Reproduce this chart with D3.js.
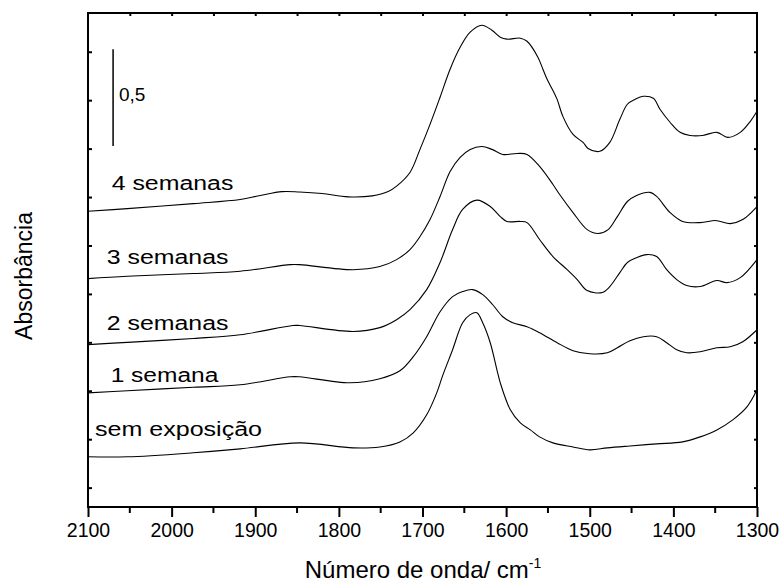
<!DOCTYPE html>
<html>
<head>
<meta charset="utf-8">
<script src="https://cdn.jsdelivr.net/npm/d3@7"></script>
<style>
  body { margin: 0; background: #fff; }
  text { font-family: Arial, "Liberation Sans", sans-serif; fill: #000; }
</style>
</head>
<body>
<svg id="chart" width="781" height="583"></svg>
<script>
// spectra, [wavenumber, absorbance]
var s4 = [[2100,1.427],[2053,1.440],[1974,1.466],[1918,1.487],[1894,1.508],[1868,1.528],[1847,1.526],[1820,1.518],
  [1789,1.501],[1760,1.506],[1741,1.528],[1731,1.556],[1715,1.627],[1703,1.746],[1691,1.875],[1679,2.015],[1667,2.160],
  [1655,2.273],[1643,2.351],[1629,2.387],[1617,2.361],[1607,2.325],[1599,2.315],[1583,2.320],[1575,2.304],
  [1562,2.222],[1556,2.160],[1551,2.108],[1544,2.050],[1539,2.004],[1532,1.915],[1520,1.823],[1508,1.782],[1502,1.751],
  [1488,1.736],[1476,1.782],[1464,1.901],[1455,1.979],[1446,2.004],[1436,2.020],[1424,2.010],[1416,1.953],[1404,1.886],
  [1392,1.834],[1380,1.818],[1365,1.818],[1348,1.834],[1335,1.808],[1320,1.834],[1308,1.891],[1300,1.943]];

var s3 = [[2100,1.079],[2053,1.091],[1974,1.105],[1918,1.117],[1858,1.151],[1847,1.151],[1783,1.125],[1751,1.141],
  [1731,1.177],[1715,1.229],[1703,1.296],[1691,1.384],[1679,1.503],[1667,1.632],[1655,1.705],[1643,1.746],[1629,1.761],
  [1617,1.746],[1604,1.720],[1587,1.725],[1575,1.720],[1560,1.658],[1544,1.565],[1536,1.513],[1520,1.420],[1503,1.332],
  [1490,1.312],[1478,1.332],[1467,1.399],[1455,1.477],[1444,1.508],[1428,1.524],[1420,1.503],[1404,1.420],[1389,1.374],
  [1368,1.368],[1350,1.379],[1344,1.374],[1332,1.363],[1317,1.384],[1300,1.451]];

var s2 = [[2100,0.738],[2053,0.750],[1974,0.770],[1918,0.789],[1855,0.837],[1847,0.837],[1783,0.806],[1751,0.826],
  [1731,0.867],[1715,0.919],[1695,1.022],[1679,1.162],[1664,1.332],[1652,1.436],[1635,1.484],[1619,1.451],[1607,1.399],
  [1599,1.374],[1583,1.374],[1575,1.368],[1560,1.281],[1544,1.193],[1527,1.125],[1515,1.074],[1503,1.017],[1485,1.007],
  [1476,1.038],[1464,1.110],[1455,1.162],[1444,1.187],[1432,1.203],[1420,1.193],[1408,1.125],[1396,1.074],[1384,1.043],
  [1368,1.038],[1348,1.069],[1336,1.058],[1320,1.084],[1300,1.177]];

var s1 = [[2100,0.489],[2053,0.500],[1974,0.518],[1918,0.531],[1858,0.572],[1847,0.572],[1787,0.541],[1751,0.562],
  [1727,0.603],[1711,0.676],[1695,0.779],[1679,0.908],[1664,0.986],[1652,1.012],[1640,1.022],[1628,0.996],[1616,0.944],
  [1604,0.882],[1592,0.851],[1575,0.831],[1560,0.800],[1539,0.748],[1520,0.707],[1500,0.691],[1479,0.696],[1467,0.722],
  [1452,0.758],[1436,0.779],[1420,0.779],[1408,0.748],[1396,0.712],[1384,0.696],[1368,0.701],[1348,0.722],[1332,0.727],
  [1317,0.753],[1300,0.815]];

var s0 = [[2100,0.159],[2053,0.159],[1974,0.180],[1918,0.200],[1847,0.231],[1783,0.205],[1751,0.210],[1727,0.236],
  [1711,0.283],[1695,0.376],[1683,0.489],[1676,0.577],[1664,0.712],[1652,0.851],[1643,0.893],[1635,0.903],[1628,0.851],
  [1619,0.748],[1611,0.608],[1607,0.541],[1595,0.402],[1583,0.334],[1571,0.298],[1560,0.262],[1544,0.231],[1520,0.210],
  [1500,0.195],[1479,0.205],[1452,0.215],[1420,0.226],[1389,0.236],[1368,0.262],[1348,0.298],[1329,0.350],[1312,0.417],
  [1300,0.505]];

var series = [s4, s3, s2, s1, s0];
var seriesLabels = ["4 semanas", "3 semanas", "2 semanas", "1 semana", "sem exposição"];
var xTickValues = [2100, 2000, 1900, 1800, 1700, 1600, 1500, 1400, 1300];

var margin = { left: 88, right: 24, top: 13, bottom: 76 };
var W = 781, H = 583;

var svg = d3.select("#chart");

var x = d3.scaleLinear().domain([2100, 1300]).range([margin.left, W - margin.right]);
var y = d3.scaleLinear().domain([-0.1, 2.45]).range([H - margin.bottom, margin.top]);

var line = d3.line()
    .x(d => x(d[0]))
    .y(d => y(d[1]))
    .curve(d3.curveCatmullRom.alpha(0.5));

// curves
svg.selectAll(".spec")
    .data(series)
    .enter()
    .append("path")
    .attr("class", "spec")
    .attr("d", line)
    .style("fill", "none")
    .style("stroke", "#000")
    .style("stroke-width", "1.1px");

// labels, anchored in data coords
var labelPos = [[2071.7, 1.534, 121.7], [2077.6, 1.155, 121.7], [2077.6, 0.815, 121.7], [2072.9, 0.543, 107.7], [2091.6, 0.267, 167]];
svg.selectAll(".lbl")
    .data(seriesLabels)
    .enter()
    .append("text")
    .attr("class", "lbl")
    .attr("x", (d, i) => x(labelPos[i][0]))
    .attr("y", (d, i) => y(labelPos[i][1]))
    .attr("textLength", (d, i) => labelPos[i][2])
    .attr("lengthAdjust", "spacingAndGlyphs")
    .style("font-size", "19.5px")
    .text(d => d);

// scale bar
svg.append("line")
    .attr("x1", x(2070)).attr("x2", x(2070))
    .attr("y1", y(1.763)).attr("y2", y(2.263))
    .style("stroke", "#000")
    .style("stroke-width", "1.5px");
svg.append("text")
    .attr("x", x(2062.9))
    .attr("y", y(1.996))
    .style("font-size", "19px")
    .text("0,5");

// axes
var xBottom = d3.axisBottom(x).tickValues(xTickValues).tickSize(10).tickPadding(6).tickFormat(d3.format("d"));
var gx = svg.append("g").attr("transform", "translate(0," + (H - margin.bottom) + ")").call(xBottom);
gx.selectAll("text").style("font-size", "19.5px").attr("font-family", null);
gx.append("g").selectAll("line")
    .data(d3.range(2050, 1300, -100))
    .enter().append("line")
    .attr("x1", d => x(d)).attr("x2", d => x(d))
    .attr("y1", 0).attr("y2", 6)
    .style("stroke", "#000").style("stroke-width", "2px");

var gTop = svg.append("g").attr("transform", "translate(0," + margin.top + ")")
    .call(d3.axisBottom(x).tickValues(d3.range(2050, 1300, -50)).tickSize(3).tickFormat(""));
var gl = svg.append("g").attr("transform", "translate(" + margin.left + ",0)")
    .call(d3.axisRight(y).tickValues(d3.range(0, 2.3, 0.25)).tickSize(4).tickFormat(""));
var gr = svg.append("g").attr("transform", "translate(" + (W - margin.right) + ",0)")
    .call(d3.axisLeft(y).tickValues(d3.range(0, 2.3, 0.25)).tickSize(3).tickFormat(""));

[gx, gTop, gl, gr].forEach(g => {
    g.select(".domain").remove();
    g.selectAll(".tick line").style("stroke", "#000").style("stroke-width", "2px");
});

// frame
svg.append("rect")
    .attr("x", margin.left).attr("y", margin.top)
    .attr("width", W - margin.left - margin.right)
    .attr("height", H - margin.top - margin.bottom)
    .style("fill", "none")
    .style("stroke", "#000")
    .style("stroke-width", "2px");

// titles
var xt = svg.append("text")
    .attr("x", 423)
    .attr("y", 578)
    .attr("text-anchor", "middle")
    .style("font-size", "24px");
xt.append("tspan").text("Número de onda/ cm");
xt.append("tspan").attr("dy", "-10").style("font-size", "14px").text("-1");

svg.append("text")
    .attr("transform", "translate(32,276) rotate(-90)")
    .attr("text-anchor", "middle")
    .style("font-size", "23px")
    .text("Absorbância");
</script>
</body>
</html>
